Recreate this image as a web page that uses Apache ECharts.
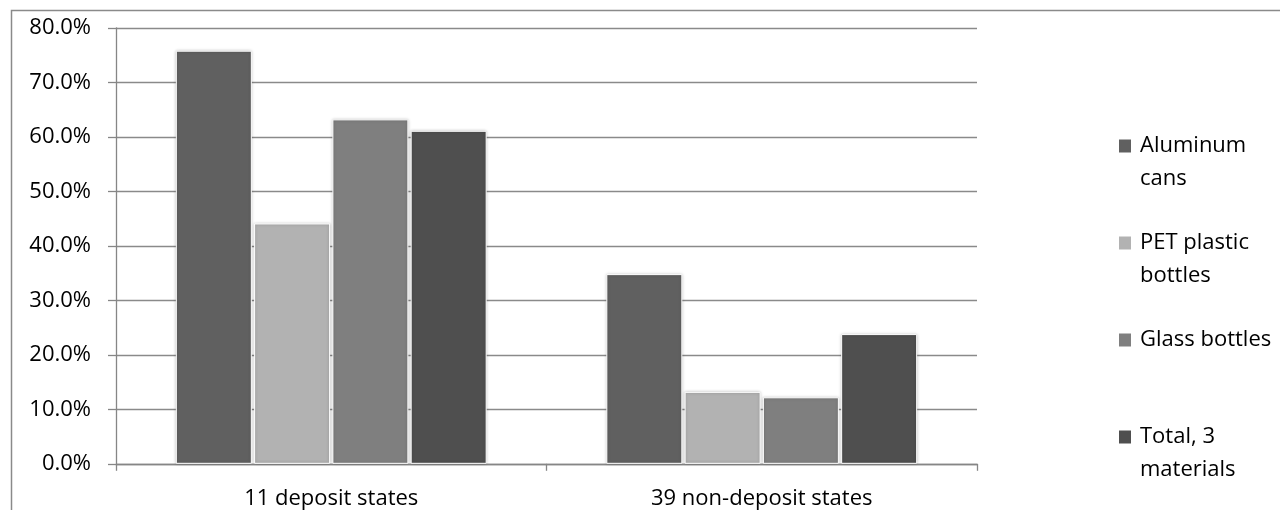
<!DOCTYPE html>
<html>
<head>
<meta charset="utf-8">
<script src="https://cdn.jsdelivr.net/npm/echarts@6/dist/echarts.min.js"></script>
<style>
html,body{margin:0;padding:0;background:#fff;}
#chart{width:1280px;height:510px;}
</style>
</head>
<body>
<div id="chart"></div>
<script>
// Data (percent)
const categories = ['11 deposit states', '39 non-deposit states'];
const seriesNames = ['Aluminum cans', 'PET plastic bottles', 'Glass bottles', 'Total, 3 materials'];
const legendLabels = ['\nAluminum\ncans', '\nPET plastic\nbottles', '\nGlass bottles\n', '\nTotal, 3\nmaterials'];
const aluminumCans = [75.8, 34.8];
const petBottles = [44.1, 13.2];
const glassBottles = [63.2, 12.2];
const totalMaterials = [61.1, 23.8];
const yTicks = [0, 10, 20, 30, 40, 50, 60, 70, 80];

const colors = ['#606060', '#b2b2b2', '#7f7f7f', '#4f4f4f'];
const values = [aluminumCans, petBottles, glassBottles, totalMaterials];
const FONT = '"Open Sans", sans-serif';

const chart = echarts.init(document.getElementById('chart'), null, {renderer: 'canvas'});

const series = seriesNames.map((name, i) => ({
  name: name,
  type: 'bar',
  data: values[i],
  barGap: '3%',
  barCategoryGap: '27.8%',
  itemStyle: {
    color: colors[i],
    borderColor: '#ffffff',
    borderWidth: 1,
    shadowBlur: 3,
    shadowColor: 'rgba(0,0,0,0.25)'
  },
  emphasis: {disabled: true},
  animation: false
}));

const labelMap = {};
seriesNames.forEach((n, i) => { labelMap[n] = legendLabels[i]; });

chart.setOption({
  animation: false,
  backgroundColor: '#ffffff',
  grid: {left: 116, right: 303, top: 27.8, bottom: 46.2, containLabel: false},
  graphic: [{
    type: 'rect',
    silent: true,
    z: -1,
    shape: {x: 11.5, y: 10.5, width: 1400, height: 700},
    style: {fill: 'none', stroke: '#8a8a8a', lineWidth: 1.5}
  }],
  legend: {
    orient: 'vertical',
    left: 1119,
    top: 96.5,
    padding: 0,
    itemGap: -2,
    itemWidth: 12,
    itemHeight: 13,
    icon: 'rect',
    itemStyle: {borderWidth: 0, shadowBlur: 0},
    data: seriesNames,
    formatter: name => labelMap[name],
    textStyle: {
      fontFamily: FONT,
      fontSize: 22,
      lineHeight: 33,
      color: '#000000',
      padding: [0, 0, 0, 4]
    },
    selectedMode: false
  },
  xAxis: {
    type: 'category',
    data: categories,
    axisLine: {lineStyle: {color: '#868686', width: 1.3}},
    axisTick: {show: true, length: 7, lineStyle: {color: '#868686', width: 1.3}},
    axisLabel: {fontFamily: FONT, fontSize: 22, color: '#000000', margin: 24}
  },
  yAxis: {
    type: 'value',
    min: yTicks[0],
    max: yTicks[yTicks.length - 1],
    interval: 10,
    axisLine: {show: true, lineStyle: {color: '#868686', width: 1.3}},
    axisTick: {show: true, length: 8, lineStyle: {color: '#868686', width: 1.3}},
    splitLine: {lineStyle: {color: '#8a8a8a', width: 1.3}},
    axisLabel: {
      fontFamily: FONT, fontSize: 22, color: '#000000', margin: 25,
      formatter: v => v.toFixed(1) + '%'
    }
  },
  series: series
});
</script>
</body>
</html>
